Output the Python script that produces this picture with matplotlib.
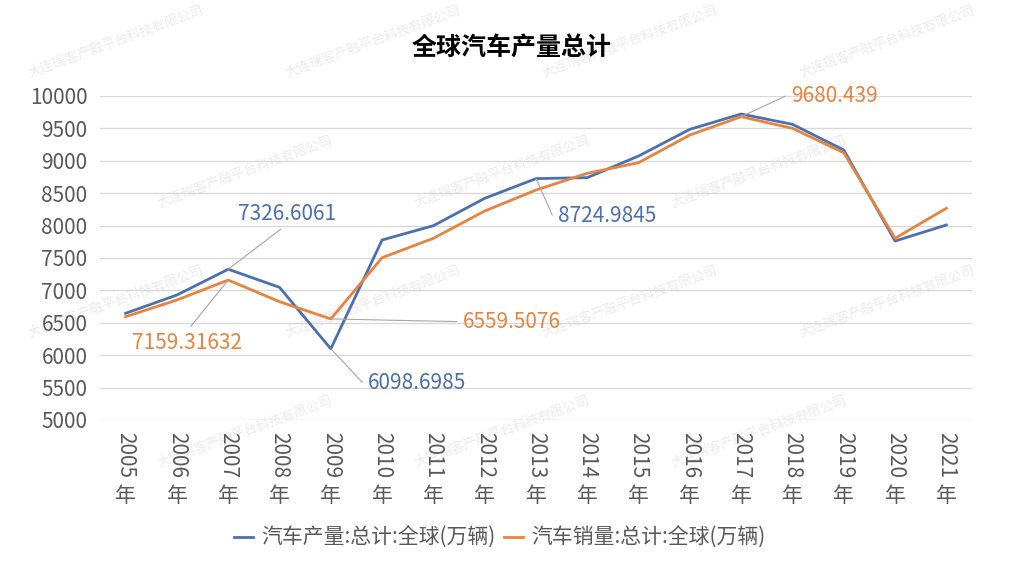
import numpy as np
import matplotlib
matplotlib.use('Agg')
import matplotlib.pyplot as plt

plt.rcParams['font.family'] = ['Noto Sans CJK SC', 'DejaVu Sans']

# data (万辆)
years = [str(y) for y in range(2005, 2022)]
production = [6647, 6929, 7326.6061, 7047, 6098.6985, 7778, 7999, 8421, 8724.9845,
              8740, 9074, 9486, 9722, 9563, 9167, 7762, 8009]
sales = [6595, 6852, 7159.31632, 6826, 6559.5076, 7505, 7804, 8225, 8549,
         8807, 8971, 9398, 9680.439, 9501, 9125, 7804, 8267]

prod_label = '汽车产量:总计:全球(万辆)'
sales_label = '汽车销量:总计:全球(万辆)'
title = '全球汽车产量总计'
watermark = '大连瑞客产融平台科技有限公司'

blue = '#4A70B0'
orange = '#E8833E'
grey_text = '#595959'

fig = plt.figure(figsize=(10.24, 5.76), dpi=100)
ax = fig.add_axes([100/1024, 1-420/576, 872/1024, 324/576])
ax.patch.set_alpha(0)

# faint watermark tiles (only the ones fully inside the picture)
for row in range(5):
    y = 42 + row * 130
    x0 = 373 if row % 2 == 0 else 245
    for k in range(-2, 5):
        x = x0 + k * 257
        if x - 95 < 0 or x + 95 > 1024 or y - 36 < 0 or y + 36 > 576:
            continue
        fig.text(x/1024, 1-y/576, watermark, fontsize=9.5, color='#EBEBEB',
                 rotation=20, ha='center', va='center', zorder=-5)

x = np.arange(len(years))
ax.plot(x, production, color=blue, lw=2, label=prod_label, zorder=3)
ax.plot(x, sales, color=orange, lw=2, label=sales_label, zorder=4)

ax.set_xlim(-0.5, len(years) - 0.5)
ax.set_ylim(5000, 10000)
ax.set_yticks(range(5000, 10001, 500))
ax.grid(axis='y', color='#D9D9D9', lw=1)
ax.set_axisbelow(True)
for s in ax.spines.values():
    s.set_visible(False)
ax.tick_params(axis='both', length=0, labelsize=15, colors=grey_text)
ax.tick_params(axis='y', pad=9)
ax.tick_params(axis='x', pad=9)
ax.set_xticks(x)
ax.set_xticklabels(years, rotation=-90, va='top', ha='center')
for i in x:
    ax.text(i, -0.2, '年', transform=ax.get_xaxis_transform(), ha='center',
            va='top', fontsize=15, color=grey_text)

fig.text(0.5, 1-48/576, title, fontsize=18, fontweight='bold', ha='center', va='center')

# data labels with leader lines
lead = dict(arrowstyle='-', color='#A6A6A6', lw=0.8, shrinkA=2, shrinkB=0)
elbow = 'arc,angleA=180,armA=5,angleB=0,armB=0,rad=0'
labels = [
    (2, production, blue, (42, 40), (0.5, 0), None),
    (2, sales, orange, (-30, -45), (0.5, 1), None),
    (4, sales, orange, (130, -2), (0, 0.5), None),
    (4, production, blue, (62, -24.5), (0, 0.5), elbow),
    (8, production, blue, (51, -27), (0, 0.5), elbow),
    (12, sales, orange, (67, 15), (0, 0.5), elbow),
]
for i, series, col, off, rel, conn in labels:
    props = dict(lead, relpos=rel)
    if conn:
        props['connectionstyle'] = conn
    ax.annotate(str(series[i]), xy=(i, series[i]),
                xytext=off, textcoords='offset points', ha='center', va='center',
                fontsize=15, color=col, arrowprops=props, zorder=5)

fig.legend(loc='center', bbox_to_anchor=(500/1024, 1-538/576), ncol=2, frameon=False,
           fontsize=15, handlelength=0.9, handletextpad=0.4, columnspacing=0.4,
           labelcolor=grey_text)

fig.savefig('out.png', dpi=100)
